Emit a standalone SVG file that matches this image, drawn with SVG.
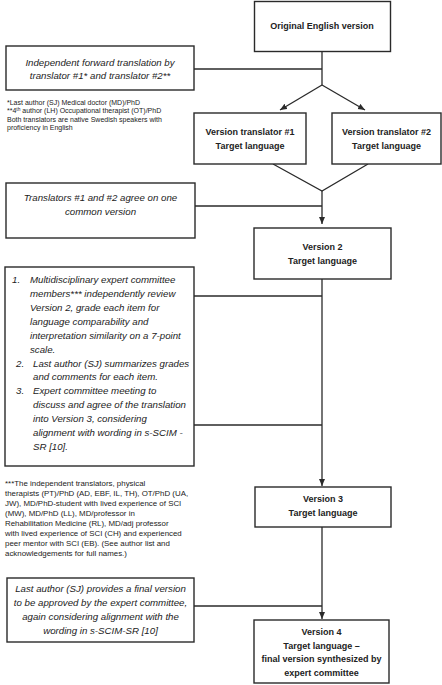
<svg xmlns="http://www.w3.org/2000/svg" width="442" height="685" viewBox="0 0 442 685">
<style>
.box{fill:#fff;stroke:#2a2a2a;stroke-width:1.4}
.ln{fill:none;stroke:#2a2a2a;stroke-width:1.3}
.b{font-family:"Liberation Sans",Arial,sans-serif;font-weight:bold;font-size:9px;fill:#222;text-anchor:middle}
.i{font-family:"Liberation Sans",Arial,sans-serif;font-style:italic;font-size:9.7px;fill:#222}
.c{text-anchor:middle}
.f1{font-family:"Liberation Sans",Arial,sans-serif;font-size:7px;fill:#222}
.f2{font-family:"Liberation Sans",Arial,sans-serif;font-size:7.9px;fill:#222}
</style>
<defs>
<marker id="ah" markerUnits="userSpaceOnUse" markerWidth="8" markerHeight="8" refX="7" refY="3" orient="auto">
<path d="M0,0 L7,3 L0,6 Z" fill="#2a2a2a"/>
</marker>
</defs>
<rect width="442" height="685" fill="#fff"/>
<g id="connectors">
<path class="ln" d="M322,51 V85"/>
<path class="ln" d="M194,69 H322"/>
<path class="ln" d="M322,85 L280,110" marker-end="url(#ah)"/>
<path class="ln" d="M322,85 L365,110" marker-end="url(#ah)"/>
<path class="ln" d="M273,164 L322,191 L368,164"/>
<path class="ln" d="M322,191 V224" marker-end="url(#ah)"/>
<path class="ln" d="M195,206 H322"/>
<path class="ln" d="M322,279 V486" marker-end="url(#ah)"/>
<path class="ln" d="M194,296 H322"/>
<path class="ln" d="M194,425 H322"/>
<path class="ln" d="M322,527 V619" marker-end="url(#ah)"/>
<path class="ln" d="M194,606 H322"/>
</g>
<g id="original">
<rect class="box" x="254.5" y="1.5" width="136" height="50"/>
<text class="b" x="322" y="29">Original English version</text>
</g>
<g id="forward-translation">
<rect class="box" x="6" y="46" width="188" height="44"/>
<text class="i c" x="100" y="66">Independent forward translation by</text>
<text class="i c" x="100" y="79">translator #1* and translator #2**</text>
</g>
<g id="footnote-translators">
<text class="f1" x="7" y="104.5">*Last author (SJ) Medical doctor (MD)/PhD</text>
<text class="f1" x="7" y="113">**4<tspan font-size="4.8" dy="-2.5">th</tspan><tspan dy="2.5"> author (LH) Occupational therapist (OT)/PhD</tspan></text>
<text class="f1" x="7" y="121.5">Both translators are native Swedish speakers with</text>
<text class="f1" x="7" y="130">proficiency in English</text>
</g>
<g id="version-t1">
<rect class="box" x="194" y="113" width="112" height="51"/>
<text class="b" x="250" y="135">Version translator #1</text>
<text class="b" x="250" y="148.5">Target language</text>
</g>
<g id="version-t2">
<rect class="box" x="332" y="113" width="109" height="51"/>
<text class="b" x="386.5" y="135">Version translator #2</text>
<text class="b" x="386.5" y="148.5">Target language</text>
</g>
<g id="agree">
<rect class="box" x="6" y="183" width="189" height="55"/>
<text class="i c" x="100.5" y="201">Translators #1 and #2 agree on one</text>
<text class="i c" x="100.5" y="215">common version</text>
</g>
<g id="version2">
<rect class="box" x="254" y="228" width="137" height="51"/>
<text class="b" x="322.5" y="250">Version 2</text>
<text class="b" x="322.5" y="264">Target language</text>
</g>
<g id="committee">
<rect class="box" x="5" y="267" width="189" height="199"/>
<text class="i" x="12" y="283">1.</text>
<text class="i" x="30" y="283">Multidisciplinary expert committee</text>
<text class="i" x="30" y="297">members*** independently review</text>
<text class="i" x="30" y="311">Version 2, grade each item for</text>
<text class="i" x="30" y="325">language comparability and</text>
<text class="i" x="30" y="339">interpretation similarity on a 7-point</text>
<text class="i" x="30" y="352.5">scale.</text>
<text class="i" x="16" y="366.5">2.</text>
<text class="i" x="33" y="366.5">Last author (SJ) summarizes grades</text>
<text class="i" x="33" y="380">and comments for each item.</text>
<text class="i" x="16" y="394">3.</text>
<text class="i" x="33" y="394">Expert committee meeting to</text>
<text class="i" x="33" y="408">discuss and agree of the translation</text>
<text class="i" x="33" y="421.5">into Version 3, considering</text>
<text class="i" x="33" y="435.5">alignment with wording in s-SCIM -</text>
<text class="i" x="33" y="449.5">SR [10].</text>
</g>
<g id="footnote-committee">
<text class="f2" x="5" y="485.5">***The independent translators, physical</text>
<text class="f2" x="5" y="495.5">therapists (PT)/PhD (AD, EBF, IL, TH), OT/PhD (UA,</text>
<text class="f2" x="5" y="505.5">JW), MD/PhD-student with lived experience of SCI</text>
<text class="f2" x="5" y="515.5">(MW), MD/PhD (LL), MD/professor in</text>
<text class="f2" x="5" y="525.5">Rehabilitation Medicine (RL), MD/adj professor</text>
<text class="f2" x="5" y="535.5">with lived experience of SCI (CH) and experienced</text>
<text class="f2" x="5" y="545.5">peer mentor with SCI (EB). (See author list and</text>
<text class="f2" x="5" y="555.5">acknowledgements for full names.)</text>
</g>
<g id="version3">
<rect class="box" x="255" y="487" width="136" height="40"/>
<text class="b" x="323" y="501.5">Version 3</text>
<text class="b" x="323" y="515.5">Target language</text>
</g>
<g id="final-approval">
<rect class="box" x="7" y="578" width="187" height="64"/>
<text class="i c" x="100.5" y="592">Last author (SJ) provides a final version</text>
<text class="i c" x="100.5" y="606">to be approved by the expert committee,</text>
<text class="i c" x="100.5" y="620">again considering alignment with the</text>
<text class="i c" x="100.5" y="634">wording in s-SCIM-SR [10]</text>
</g>
<g id="version4">
<rect class="box" x="254" y="620" width="135" height="63"/>
<text class="b" x="321.5" y="635">Version 4</text>
<text class="b" x="321.5" y="648.5">Target language –</text>
<text class="b" x="321.5" y="662">final version synthesized by</text>
<text class="b" x="321.5" y="675.5">expert committee</text>
</g>
</svg>
